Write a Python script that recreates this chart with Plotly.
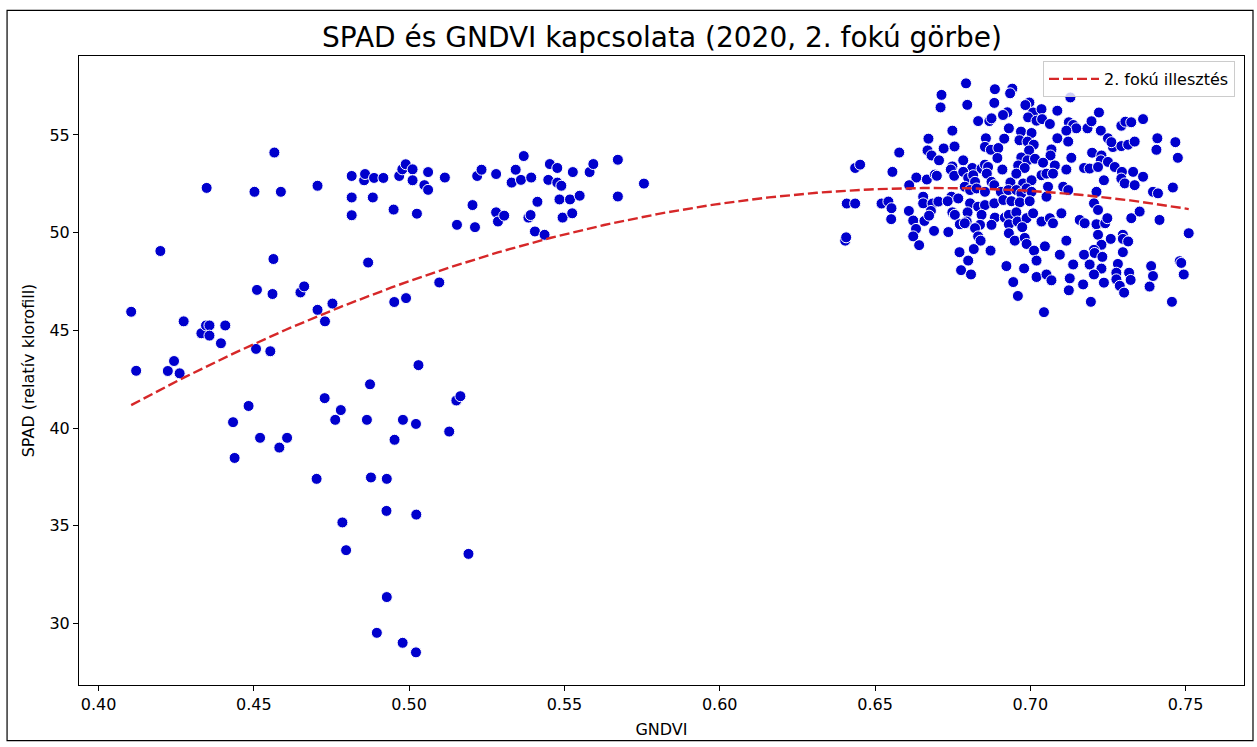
import numpy as np
import plotly.graph_objects as go

# (GNDVI, SPAD) samples – lower-vigour plots
low_gndvi_plots = [
    (0.4105, 45.95), (0.4121, 42.93), (0.4199, 49.06), (0.4223, 42.92), (0.4243, 43.43),
    (0.4261, 42.80), (0.4274, 45.46), (0.4331, 44.85), (0.4346, 45.25), (0.4348, 52.29),
    (0.4357, 45.25), (0.4357, 44.73), (0.4394, 44.34), (0.4408, 45.25), (0.4433, 40.30),
    (0.4438, 38.47), (0.4483, 41.13), (0.4502, 52.09), (0.4507, 44.05), (0.4510, 47.07),
    (0.4520, 39.50), (0.4553, 43.93), (0.4560, 46.86), (0.4563, 48.65), (0.4566, 54.10),
    (0.4582, 39.00), (0.4587, 52.09), (0.4607, 39.50), (0.4650, 46.94), (0.4662, 47.25),
    (0.4702, 37.40), (0.4705, 52.40), (0.4705, 46.05), (0.4728, 41.53), (0.4729, 45.46),
    (0.4753, 46.37), (0.4762, 40.42), (0.4780, 40.92), (0.4785, 35.17), (0.4797, 33.75),
    (0.4815, 52.90), (0.4815, 51.80), (0.4815, 50.89), (0.4855, 52.68), (0.4858, 53.00),
    (0.4864, 40.42), (0.4868, 48.47), (0.4874, 42.24), (0.4877, 37.47), (0.4883, 51.80),
    (0.4887, 52.80), (0.4896, 29.52), (0.4917, 52.80), (0.4927, 35.76), (0.4928, 37.40),
    (0.4928, 31.35), (0.4950, 51.18), (0.4952, 46.45), (0.4953, 39.40), (0.4968, 52.90),
    (0.4978, 53.24), (0.4979, 29.01), (0.4980, 40.42), (0.4989, 53.50), (0.4990, 46.65),
    (0.5011, 53.24), (0.5011, 52.68), (0.5022, 40.21), (0.5022, 28.52), (0.5023, 35.57),
    (0.5025, 50.97), (0.5030, 43.22), (0.5049, 52.43), (0.5061, 53.10), (0.5061, 52.19),
    (0.5097, 47.45), (0.5115, 52.82), (0.5129, 39.82), (0.5152, 41.41), (0.5154, 50.40),
    (0.5165, 41.63), (0.5191, 33.56), (0.5204, 51.41), (0.5212, 50.28), (0.5219, 52.90),
    (0.5233, 53.22), (0.5280, 53.00), (0.5280, 51.04), (0.5286, 50.57), (0.5306, 50.87),
    (0.5330, 52.56), (0.5343, 53.22), (0.5360, 52.70), (0.5369, 53.92), (0.5384, 50.77),
    (0.5391, 50.90), (0.5393, 52.82), (0.5405, 50.06), (0.5413, 51.58), (0.5436, 49.89),
    (0.5448, 52.70), (0.5453, 53.51), (0.5477, 53.31), (0.5477, 52.56), (0.5490, 52.40),
    (0.5484, 51.70), (0.5518, 51.70), (0.5494, 50.77), (0.5525, 50.99), (0.5527, 53.10),
    (0.5549, 51.89), (0.5581, 53.10), (0.5593, 53.51), (0.5672, 53.73), (0.5672, 51.85),
    (0.5756, 52.51),
]

# (GNDVI, SPAD) samples – high-vigour plots
high_gndvi_plots = [
    (0.6793, 57.64), (0.6886, 57.34), (0.6942, 57.37), (0.6935, 57.13), (0.6714, 57.05),
    (0.6711, 56.41), (0.6797, 56.54), (0.6884, 56.64), (0.6997, 56.66), (0.6984, 56.53),
    (0.6926, 56.16), (0.6912, 56.02), (0.6832, 55.71), (0.6868, 55.71), (0.6875, 55.85),
    (0.7009, 56.15), (0.6993, 55.90), (0.7020, 55.73), (0.6749, 55.22), (0.6931, 55.34),
    (0.6970, 55.17), (0.7004, 55.10), (0.6672, 54.81), (0.6857, 54.83), (0.6916, 54.81),
    (0.6965, 54.73), (0.6991, 54.66), (0.7011, 54.50), (0.6721, 54.31), (0.6756, 54.41),
    (0.6854, 54.39), (0.6873, 54.24), (0.6897, 54.33), (0.6996, 54.21), (0.6578, 54.10),
    (0.6669, 54.21), (0.6682, 53.95), (0.6706, 53.70), (0.6894, 53.82), (0.6971, 53.85),
    (0.6991, 53.70), (0.7015, 53.78), (0.6436, 53.31), (0.6452, 53.48), (0.6556, 53.11),
    (0.6784, 53.70), (0.6749, 53.39), (0.6744, 53.23), (0.6813, 53.31), (0.6843, 53.28),
    (0.6854, 53.48), (0.6864, 53.36), (0.6910, 53.23), (0.6961, 53.44), (0.6982, 53.31),
    (0.6633, 52.82), (0.6667, 52.72), (0.6693, 52.97), (0.6699, 52.91), (0.6755, 52.91),
    (0.6784, 53.11), (0.6800, 52.80), (0.6816, 52.94), (0.6822, 52.60), (0.6860, 53.02),
    (0.6875, 52.60), (0.6884, 52.43), (0.6936, 52.57), (0.6955, 53.02), (0.6977, 52.52),
    (0.7004, 52.68), (0.6610, 52.43), (0.6789, 52.35), (0.6806, 52.18), (0.6827, 52.26),
    (0.6854, 52.09), (0.6905, 52.09), (0.6929, 52.18), (0.6955, 52.18), (0.6971, 52.01),
    (0.6988, 52.26), (0.7004, 52.09), (0.6409, 51.49), (0.6436, 51.49), (0.6521, 51.49),
    (0.6543, 51.59), (0.6553, 51.25), (0.6655, 51.84), (0.6655, 51.50), (0.6685, 51.49),
    (0.6704, 51.59), (0.6746, 51.84), (0.6734, 51.61), (0.6768, 51.75), (0.6806, 51.50),
    (0.6832, 51.33), (0.6854, 51.41), (0.6884, 51.50), (0.6913, 51.67), (0.6939, 51.61),
    (0.6966, 51.55), (0.6998, 51.61), (0.6552, 50.69), (0.6609, 51.11), (0.6623, 50.62),
    (0.6659, 50.60), (0.6632, 50.19), (0.6680, 51.11), (0.6674, 50.87), (0.6749, 51.04),
    (0.6757, 50.91), (0.6798, 51.04), (0.6795, 50.57), (0.6843, 50.91), (0.6838, 50.40),
    (0.6773, 50.43), (0.6886, 50.77), (0.6918, 50.77), (0.6931, 50.91), (0.6955, 51.04),
    (0.6875, 50.40), (0.6931, 50.43), (0.6959, 50.57), (0.6988, 50.74), (0.7009, 50.99),
    (0.6690, 50.09), (0.6736, 50.03), (0.6822, 50.23), (0.6623, 49.81), (0.6404, 49.59),
    (0.6407, 49.76), (0.6642, 49.36), (0.6832, 49.81), (0.6840, 49.59), (0.6772, 49.00),
    (0.6818, 49.16), (0.6800, 48.57), (0.6777, 48.08), (0.6809, 47.86), (0.6872, 49.08),
    (0.6974, 50.28), (0.6931, 49.97), (0.6950, 49.59), (0.6982, 49.73), (0.6988, 49.42),
    (0.7012, 49.08), (0.6923, 48.29), (0.6980, 48.17), (0.7020, 48.57), (0.7020, 47.73),
    (0.6945, 47.47), (0.6960, 46.76), (0.6789, 50.48), (0.7129, 56.92), (0.7036, 56.32),
    (0.7038, 55.81), (0.7063, 55.56), (0.7087, 56.24), (0.7124, 55.65), (0.7138, 55.51),
    (0.7148, 55.34), (0.7184, 55.34), (0.7197, 55.70), (0.7221, 56.15), (0.7227, 55.22),
    (0.7293, 55.47), (0.7306, 55.68), (0.7325, 55.65), (0.7363, 55.81), (0.7116, 55.22),
    (0.7087, 54.83), (0.7122, 54.66), (0.7068, 54.26), (0.7065, 53.95), (0.7250, 54.83),
    (0.7266, 54.38), (0.7261, 54.63), (0.7293, 54.43), (0.7315, 54.50), (0.7336, 54.66),
    (0.7409, 54.83), (0.7406, 54.24), (0.7467, 54.63), (0.7475, 53.83), (0.7132, 53.83),
    (0.7199, 54.09), (0.7229, 53.95), (0.7227, 53.70), (0.7041, 53.58), (0.7079, 53.44),
    (0.7250, 53.62), (0.7272, 53.36), (0.7295, 53.11), (0.7331, 53.11), (0.7363, 52.86),
    (0.7173, 53.31), (0.7191, 53.28), (0.7218, 53.36), (0.7116, 53.23), (0.7036, 52.94),
    (0.7052, 53.02), (0.7073, 53.02), (0.7057, 52.35), (0.7106, 52.35), (0.7122, 52.18),
    (0.7237, 52.68), (0.7293, 52.77), (0.7304, 52.52), (0.7336, 52.43), (0.7213, 52.09),
    (0.7395, 52.09), (0.7411, 52.01), (0.7459, 52.31), (0.7052, 51.84), (0.7205, 51.50),
    (0.7218, 51.16), (0.7036, 50.57), (0.7063, 50.74), (0.7073, 50.48), (0.7100, 50.99),
    (0.7159, 50.65), (0.7175, 50.48), (0.7213, 50.43), (0.7241, 50.48), (0.7248, 50.74),
    (0.7325, 50.74), (0.7352, 51.08), (0.7416, 50.65), (0.7510, 49.97), (0.7047, 49.30),
    (0.7116, 49.59), (0.7218, 49.89), (0.7229, 49.38), (0.7259, 49.68), (0.7298, 49.89),
    (0.7298, 49.68), (0.7315, 49.55), (0.7205, 49.12), (0.7173, 48.87), (0.7207, 48.96),
    (0.7232, 48.76), (0.7298, 49.00), (0.7095, 48.87), (0.7138, 48.37), (0.7191, 48.37),
    (0.7229, 48.16), (0.7282, 48.40), (0.7389, 48.29), (0.7481, 48.54), (0.7486, 48.45),
    (0.7052, 47.86), (0.7068, 47.56), (0.7127, 47.66), (0.7124, 47.05), (0.7170, 47.35),
    (0.7205, 47.86), (0.7237, 47.44), (0.7277, 47.95), (0.7277, 47.61), (0.7288, 47.28),
    (0.7302, 46.93), (0.7318, 47.95), (0.7323, 47.58), (0.7395, 47.78), (0.7384, 47.24),
    (0.7494, 47.86), (0.7195, 46.46), (0.7456, 46.46), (0.7044, 45.93),
]

x_ticks = [0.40, 0.45, 0.50, 0.55, 0.60, 0.65, 0.70, 0.75]
y_ticks = [30, 35, 40, 45, 50, 55]

all_points = low_gndvi_plots + high_gndvi_plots
gndvi = np.array([p[0] for p in all_points])
spad = np.array([p[1] for p in all_points])

# second-degree polynomial fit of SPAD on GNDVI
coef = np.polyfit(gndvi, spad, 2)
x_fit = np.linspace(gndvi.min(), gndvi.max(), 200)
y_fit = np.polyval(coef, x_fit)

FONT = "DejaVu Sans"

fig = go.Figure()
fig.add_trace(go.Scatter(
    x=gndvi, y=spad, mode="markers", showlegend=False,
    marker=dict(color="#0000CD", size=11, line=dict(color="white", width=1)),
))
fig.add_trace(go.Scatter(
    x=x_fit, y=y_fit, mode="lines", name="2. fokú illesztés",
    line=dict(color="#D62728", width=2.4, dash="10px,4px"),
))

W, H = 1257, 747
L, R, T, B = 79, 1245, 56, 690
pw, ph = R - L, B - T

def px(xp):
    return (xp - L) / pw

def py(yp):
    return (B - yp) / ph

fig.update_layout(
    width=W, height=H,
    margin=dict(l=L, r=W - R, t=T, b=H - B),
    paper_bgcolor="white", plot_bgcolor="white",
    font=dict(family=FONT, size=16, color="black"),
    title=dict(text="SPAD és GNDVI kapcsolata (2020, 2. fokú görbe)",
               x=(L + R) / 2 / W, xanchor="center",
               y=1 - 37 / H, yanchor="middle",
               font=dict(family=FONT, size=28, color="black")),
    legend=dict(x=px(1236), y=py(61), xanchor="right", yanchor="top",
                bgcolor="rgba(255,255,255,0.8)", bordercolor="#CCCCCC", borderwidth=1,
                itemwidth=50, font=dict(family=FONT, size=16)),
    shapes=[dict(type="rect", xref="paper", yref="paper",
                 x0=px(7), x1=px(1254), y0=py(746), y1=py(10),
                 line=dict(color="black", width=1.2), layer="below")],
)
fig.update_xaxes(
    range=[0.3937, 0.7688], tickvals=x_ticks, ticktext=[f"{v:.2f}" for v in x_ticks],
    showgrid=False, zeroline=False, showline=True, linecolor="black", linewidth=1,
    mirror=True, ticks="outside", ticklen=5, tickcolor="black",
    title=dict(text="GNDVI", font=dict(size=16), standoff=10),
    tickfont=dict(size=16),
)
fig.update_yaxes(
    range=[26.85, 59.04], tickvals=y_ticks, ticktext=[str(v) for v in y_ticks],
    showgrid=False, zeroline=False, showline=True, linecolor="black", linewidth=1,
    mirror=True, ticks="outside", ticklen=5, tickcolor="black",
    title=dict(text="SPAD (relatív klorofill)", font=dict(size=16), standoff=10),
    tickfont=dict(size=16),
)

fig.write_html("out.html")
